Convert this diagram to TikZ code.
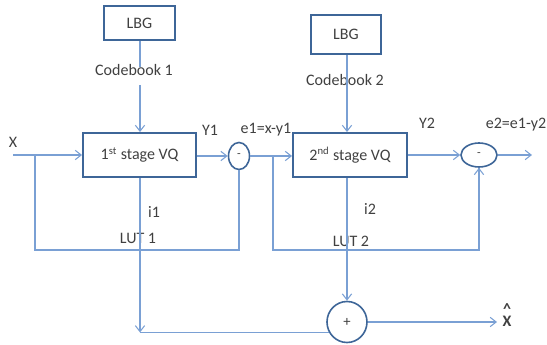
\documentclass[tikz,border=0pt]{standalone}
\usepackage{fontspec}
\setmainfont{Carlito}
\usetikzlibrary{arrows.meta,shapes.geometric,calc}
\definecolor{wire}{RGB}{122,160,212}
\definecolor{frame}{RGB}{62,102,152}
\definecolor{ink}{RGB}{64,64,64}
\tikzset{
  blk/.style={draw=frame,line width=1.4pt,inner sep=0pt,font=\fontsize{12}{14}\selectfont,text=ink},
  sumnode/.style={ellipse,draw=frame,line width=1.2pt,inner sep=0pt,font=\fontsize{9}{10}\selectfont,text=ink},
  lbl/.style={font=\fontsize{12}{14}\selectfont,text=ink,inner sep=1pt},
  wireline/.style={draw=wire,line width=0.8pt},
  arr/.style={wireline,-{Straight Barb[length=4.5pt,width=7pt]}}
}
\begin{document}
\begin{tikzpicture}[x=0.75pt,y=-0.75pt]
\useasboundingbox (0,0) rectangle (547,345);

% codebook generators
\node[blk,minimum width=53.25pt,minimum height=25.5pt] (lbg1) at (139.5,23) {LBG};
\node[blk,minimum width=52.5pt,minimum height=29.25pt] (lbg2) at (346,34.5) {LBG};

% quantiser stages
\node[blk,minimum width=84.75pt,minimum height=33pt] (vq1) at (139.5,155) {1\textsuperscript{st} stage VQ};
\node[blk,minimum width=85.5pt,minimum height=33pt] (vq2) at (350,155) {2\textsuperscript{nd} stage VQ};

% subtractors and adder
\node[sumnode,minimum width=15.75pt,minimum height=20.25pt] (sub1) at (239,156) {-};
\node[sumnode,minimum width=27pt,minimum height=18pt] (sub2) at (479,155) {-};
\node[sumnode,minimum width=30pt,minimum height=30.75pt,font=\fontsize{11}{12}\selectfont] (add) at (347,322) {+};

% labels
\node[lbl] (cb1) at (134,70) {Codebook 1};
\node[lbl] (cb2) at (345,80) {Codebook 2};
\node[lbl] (xin) at (13,142) {X};
\node[lbl] (y1) at (210,130) {Y1};
\node[lbl] (e1) at (266,130) {e1=x-y1};
\node[lbl] (y2) at (427,123) {Y2};
\node[lbl] (e2) at (516,125) {e2=e1-y2};
\node[lbl] (i1) at (154,212) {i1};
\node[lbl] (lut1) at (138,238) {LUT 1};
\node[lbl] (i2) at (370,209) {i2};
\node[lbl] (lut2) at (351,241) {LUT 2};
\node[lbl,align=center,font=\fontsize{12}{9}\selectfont\bfseries] (xhat) at (507,315) {\textasciicircum\\X};

% junctions
\coordinate (xs) at (13,155);
\coordinate (b1) at (35,155);
\coordinate (b1d) at (35,250);
\coordinate (b2) at (273,156);
\coordinate (b2d) at (273,250);
\coordinate (cbend) at (vq1.south |- add.210);
\coordinate (out2) at (532,155);
\coordinate (outx) at (497,322);
\coordinate (cb1top) at (140,67);
\coordinate (cb1bot) at (140,85);

% codebook feeds
\draw[wireline] (lbg1.south -| cb1top) -- (cb1top);
\draw[arr] (cb1bot) -- (cb1bot |- vq1.north);
\draw[arr] (lbg2.south -| add.north) -- (vq2.north -| add.north);

% first stage
\draw[arr] (xs) -- (vq1.west);
\draw[arr] (vq1.east |- sub1.west) -- (sub1.west);
\draw[wireline] (b1) -- (b1d) -| (sub1.south);

% second stage
\draw[arr] (sub1.east) -- (vq2.west |- sub1.east);
\draw[arr] (vq2.east |- sub2.west) -- (sub2.west);
\draw[arr] (sub2.east) -- (out2);
\draw[wireline] (b2) -- (b2d) -| (sub2.south);
\draw[arr] (b2d -| sub2.south) -- (sub2.south);

% index paths to the reconstruction adder
\draw[arr] (vq1.south -| cb1top) -- (cbend -| cb1top);
\draw[wireline] (cbend -| cb1top) -- (add.210);
\draw[arr] (vq2.south -| add.north) -- (add.north);
\draw[arr] (add.east) -- (outx);
\end{tikzpicture}
\end{document}
